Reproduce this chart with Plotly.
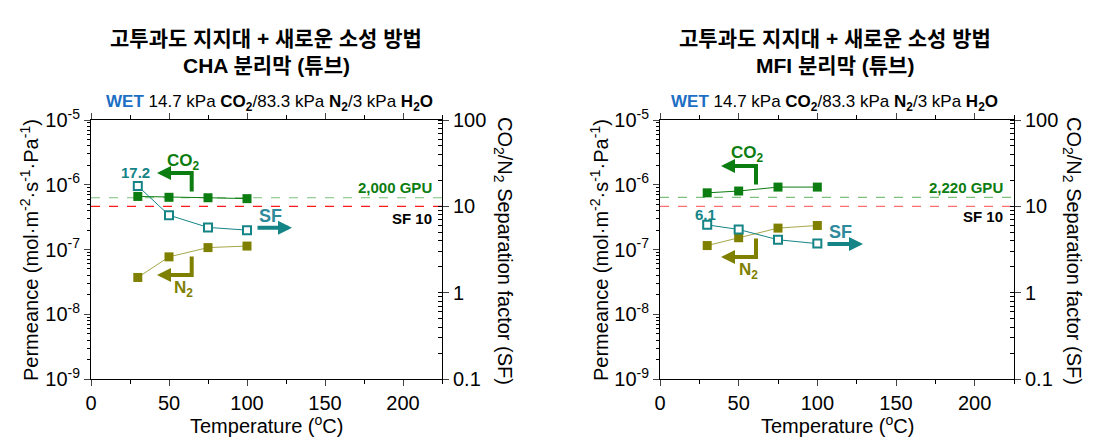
import plotly.graph_objects as go

# ---------------- data ----------------
temps = [30, 50, 75, 100]

cha_co2 = [6.6e-7, 6.4e-7, 6.3e-7, 6.1e-7]
cha_n2 = [3.7e-8, 7.7e-8, 1.07e-7, 1.13e-7]
cha_sf = [17.2, 7.9, 5.7, 5.3]

mfi_co2 = [7.5e-7, 8.0e-7, 9.2e-7, 9.2e-7]
mfi_n2 = [1.15e-7, 1.52e-7, 2.14e-7, 2.35e-7]
mfi_sf = [6.1, 5.4, 4.1, 3.7]

gpu_lines = [6.3e-7, 6.4e-7]          # permeance reference lines
gpu_labels = ["2,000 GPU", "2,220 GPU"]
sf_ref = 10
sf_first_labels = ["17.2", "6.1"]

panel_titles = [["고투과도 지지대 + 새로운 소성 방법", "CHA 분리막 (튜브)"],
                ["고투과도 지지대 + 새로운 소성 방법", "MFI 분리막 (튜브)"]]

perm_tickvals = [1e-9, 1e-8, 1e-7, 1e-6, 1e-5]
perm_ticktext = ["10<sup>-9</sup>", "10<sup>-8</sup>", "10<sup>-7</sup>",
                 "10<sup>-6</sup>", "10<sup>-5</sup>"]
sf_tickvals = [0.1, 1, 10, 100]
sf_ticktext = ["0.1", "1", "10", "100"]
x_tickvals = [0, 50, 100, 150, 200]

# ---------------- style ----------------
W, H = 1100, 446
FONT = "Liberation Sans, Arial, Noto Sans CJK KR"
C_CO2 = "#0c7d10"
C_N2 = "#808000"
C_SF = "#158487"
C_SFLBL = "#2f8a9c"
C_WET = "#1c6fc4"

fig = go.Figure()

def px2paper(px, py):
    return px / W, 1 - py / H

panels = [
    dict(xa="x", ya="y", ya2="y2", co2=cha_co2, n2=cha_n2, sf=cha_sf),
    dict(xa="x2", ya="y3", ya2="y4", co2=mfi_co2, n2=mfi_n2, sf=mfi_sf),
]

for i, p in enumerate(panels):
    # reference dashed lines across the full x range
    fig.add_trace(go.Scatter(x=[0, 225], y=[gpu_lines[i]] * 2, xaxis=p["xa"], yaxis=p["ya"],
                             mode="lines", line=dict(color="#7cc07c", width=1.2, dash="dash"),
                             showlegend=False, hoverinfo="skip"))
    fig.add_trace(go.Scatter(x=[0, 225], y=[sf_ref] * 2, xaxis=p["xa"], yaxis=p["ya2"],
                             mode="lines",
                             line=dict(color="#ff1a1a" if i == 0 else "#ff6f6f", width=1.4, dash="dash"),
                             showlegend=False, hoverinfo="skip"))
    fig.add_trace(go.Scatter(x=temps, y=p["co2"], xaxis=p["xa"], yaxis=p["ya"],
                             mode="lines+markers",
                             line=dict(color=C_CO2, width=1),
                             marker=dict(symbol="square", size=9, color=C_CO2),
                             showlegend=False))
    fig.add_trace(go.Scatter(x=temps, y=p["n2"], xaxis=p["xa"], yaxis=p["ya"],
                             mode="lines+markers",
                             line=dict(color="#a6a64a", width=1),
                             marker=dict(symbol="square", size=9, color=C_N2),
                             showlegend=False))
    fig.add_trace(go.Scatter(x=temps, y=p["sf"], xaxis=p["xa"], yaxis=p["ya2"],
                             mode="lines+markers",
                             line=dict(color=C_SF, width=1),
                             marker=dict(symbol="square", size=8, color="white",
                                         line=dict(color=C_SF, width=2)),
                             showlegend=False))

# ---------------- axes ----------------
dom_y = [1 - 379 / H, 1 - 120 / H]
dom_x = [[91 / W, 442 / W], [660 / W, 1014 / W]]
axfont = dict(family=FONT, size=20, color="black")

common_x = dict(range=[0, 225], tickvals=x_tickvals, ticks="outside", ticklen=6,
                showline=True, linecolor="black", linewidth=1, mirror="ticks",
                showgrid=False, zeroline=False, tickfont=axfont, automargin=False,
                minor=dict(dtick=25, tick0=0, ticks="outside", ticklen=4, tickcolor="black"))
common_yl = dict(type="log", range=[-9, -5], tickvals=perm_tickvals, ticktext=perm_ticktext,
                 ticks="outside", ticklen=6, showline=True, linecolor="black", linewidth=1,
                 showgrid=False, zeroline=False, tickfont=axfont, domain=dom_y, automargin=False,
                 minor=dict(ticks="outside", ticklen=3, tickcolor="black", dtick="D1"))
common_yr = dict(type="log", range=[-1, 2], tickvals=sf_tickvals, ticktext=sf_ticktext,
                 ticks="outside", ticklen=6, showline=True, linecolor="black", linewidth=1,
                 showgrid=False, zeroline=False, tickfont=axfont, side="right", automargin=False,
                 minor=dict(ticks="inside", ticklen=4, tickcolor="black", dtick="D1"))

fig.update_layout(
    xaxis=dict(domain=dom_x[0], anchor="y", **common_x),
    yaxis=dict(anchor="x", **common_yl),
    yaxis2=dict(anchor="x", overlaying="y", **common_yr),
    xaxis2=dict(domain=dom_x[1], anchor="y3", **common_x),
    yaxis3=dict(anchor="x2", **common_yl),
    yaxis4=dict(anchor="x2", overlaying="y3", **common_yr),
)

# ---------------- annotations ----------------
ann = []

def text(px, py, s, size, color="black", bold=False, xanchor="center", angle=0):
    x, y = px2paper(px, py)
    ann.append(dict(x=x, y=y, xref="paper", yref="paper", text=("<b>%s</b>" % s) if bold else s,
                    showarrow=False, xanchor=xanchor, yanchor="middle", textangle=angle,
                    font=dict(family=FONT, size=size, color=color)))

def seg(hx, hy, tx, ty, color, head=True, width=4):
    x, y = px2paper(hx, hy)
    ann.append(dict(x=x, y=y, xref="paper", yref="paper", ax=tx - hx, ay=ty - hy,
                    axref="pixel", ayref="pixel", text="", showarrow=True,
                    arrowhead=2 if head else 0, arrowsize=0.7, arrowwidth=width,
                    arrowcolor=color, standoff=0, startstandoff=0))

centers = [266, 835]
sub = ("<span style='color:%s'><b>WET</b></span> 14.7 kPa <b>CO<sub>2</sub></b>/83.3 kPa "
       "<b>N<sub>2</sub></b>/3 kPa <b>H<sub>2</sub>O</b>" % C_WET)
for i in range(2):
    text(centers[i], 38, panel_titles[i][0], 21, bold=True)
    text(centers[i], 66, panel_titles[i][1], 21, bold=True)
    text([269, 835][i], 103, sub, 17)

# axis titles
perm_title = "Permeance (mol·m<sup>-2</sup>·s<sup>-1</sup>·Pa<sup>-1</sup>)"
sf_title = "CO<sub>2</sub>/N<sub>2</sub> Separation factor (SF)"
xt = "Temperature (<sup>o</sup>C)"
text(30, 250, perm_title, 20, angle=-90)
text(600, 250, perm_title, 20, angle=-90)
text(503, 251, sf_title, 20, angle=90)
text(1072, 251, sf_title, 20, angle=90)
text(266, 424, xt, 20)
text(837, 424, xt, 20)

# ---- CHA panel labels and arrows ----
text(135, 172, sf_first_labels[0], 15, C_SF, bold=True)
text(183, 162, "CO<sub>2</sub>", 17, C_CO2, bold=True)
seg(191.7, 171, 191.7, 193, C_CO2, head=False)
seg(157, 173, 193.7, 173, C_CO2)
seg(191.7, 277, 191.7, 255, C_N2, head=False)
seg(157, 275, 193.7, 275, C_N2)
text(183, 289, "N<sub>2</sub>", 17, C_N2, bold=True)
seg(292, 227.7, 256, 227.7, C_SF)
text(270, 216, "SF", 18, C_SFLBL, bold=True)
text(434, 187, gpu_labels[0], 15, C_CO2, bold=True, xanchor="right")
text(434, 218, "SF 10", 15, "black", bold=True, xanchor="right")

# ---- MFI panel labels and arrows ----
text(705, 215, sf_first_labels[1], 15, C_SF, bold=True)
text(747, 154, "CO<sub>2</sub>", 17, C_CO2, bold=True)
seg(756, 164, 756, 186, C_CO2, head=False)
seg(721, 166, 758, 166, C_CO2)
seg(756, 259, 756, 237, C_N2, head=False)
seg(721, 257, 758, 257, C_N2)
text(748, 271, "N<sub>2</sub>", 17, C_N2, bold=True)
seg(863, 244, 826, 244, C_SF)
text(840, 232, "SF", 18, C_SFLBL, bold=True)
text(1005, 187, gpu_labels[1], 15, C_CO2, bold=True, xanchor="right")
text(1005, 217, "SF 10", 15, "black", bold=True, xanchor="right")

fig.update_layout(width=W, height=H, autosize=False,
                  margin=dict(l=0, r=0, t=0, b=0),
                  paper_bgcolor="white", plot_bgcolor="white",
                  font=dict(family=FONT, color="black"),
                  annotations=ann, showlegend=False)

fig.write_html("out.html", config={"displayModeBar": False},
               post_script="document.body.style.margin='0';document.body.style.overflow='hidden';")
